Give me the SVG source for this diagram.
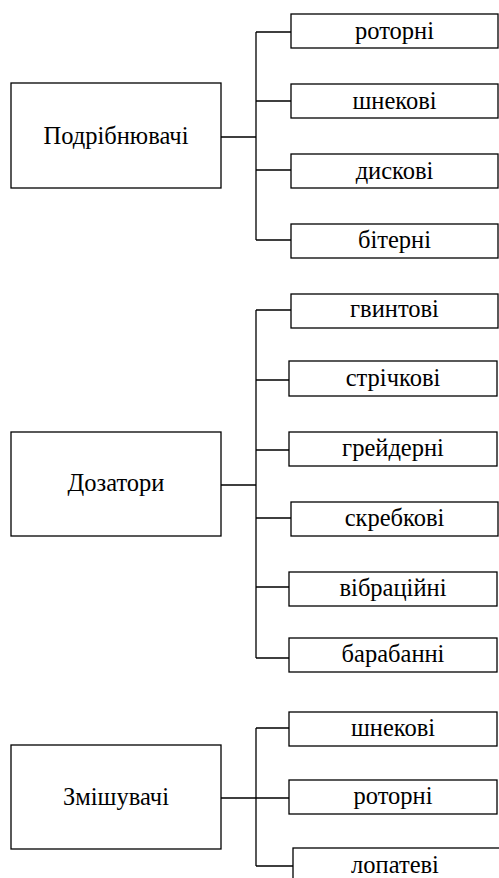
<svg xmlns="http://www.w3.org/2000/svg" width="499" height="878" viewBox="0 0 499 878">
<style>
rect{fill:#fff;stroke:#000;stroke-width:1.3}
.c path{fill:none;stroke:#000;stroke-width:1.3}
text{font-family:"Liberation Serif","Times New Roman",serif;font-size:24.5px;fill:#000;text-anchor:middle}
</style>
<rect x="0" y="0" width="499" height="878" style="stroke:none"/>
<g class="c">
<path d="M221 137H256M256 32V240M256 32H291M256 101H291M256 170H291M256 240H291"/>
<path d="M221 485H256M256 310V658M256 310H291M256 380H289M256 450H289M256 518H291M256 587H289M256 658H289"/>
<path d="M221 798H256M256 728V866M256 728H289M256 798H289M256 866H293"/>
</g>
<g id="n1"><rect x="11" y="83" width="210" height="105"/><text x="116" y="143.5">Подрібнювачі</text></g>
<g id="n1a"><rect x="291" y="14" width="207" height="34"/><text x="394.5" y="39">роторні</text></g>
<g id="n1b"><rect x="291" y="84" width="207" height="34"/><text x="394.5" y="108.5">шнекові</text></g>
<g id="n1c"><rect x="291" y="154" width="207" height="34"/><text x="394.5" y="178.5">дискові</text></g>
<g id="n1d"><rect x="291" y="224" width="207" height="34"/><text x="394.5" y="247.5">бітерні</text></g>
<g id="n2"><rect x="11" y="432" width="210" height="104"/><text x="116" y="491">Дозатори</text></g>
<g id="n2a"><rect x="291" y="294" width="207" height="34"/><text x="394.5" y="317">гвинтові</text></g>
<g id="n2b"><rect x="289" y="361" width="208" height="35"/><text x="393" y="386">стрічкові</text></g>
<g id="n2c"><rect x="289" y="432" width="208" height="34"/><text x="393" y="456">грейдерні</text></g>
<g id="n2d"><rect x="291" y="502" width="207" height="34"/><text x="394.5" y="526">скребкові</text></g>
<g id="n2e"><rect x="289" y="572" width="208" height="34"/><text x="393" y="596">вібраційні</text></g>
<g id="n2f"><rect x="289" y="638" width="208" height="34"/><text x="393" y="662">барабанні</text></g>
<g id="n3"><rect x="11" y="745" width="210" height="104"/><text x="116" y="805">Змішувачі</text></g>
<g id="n3a"><rect x="289" y="712" width="208" height="34"/><text x="393" y="736">шнекові</text></g>
<g id="n3b"><rect x="289" y="780" width="208" height="34"/><text x="393" y="804">роторні</text></g>
<g id="n3c"><rect x="293" y="848" width="207" height="40"/><text x="395" y="873">лопатеві</text></g>
</svg>
